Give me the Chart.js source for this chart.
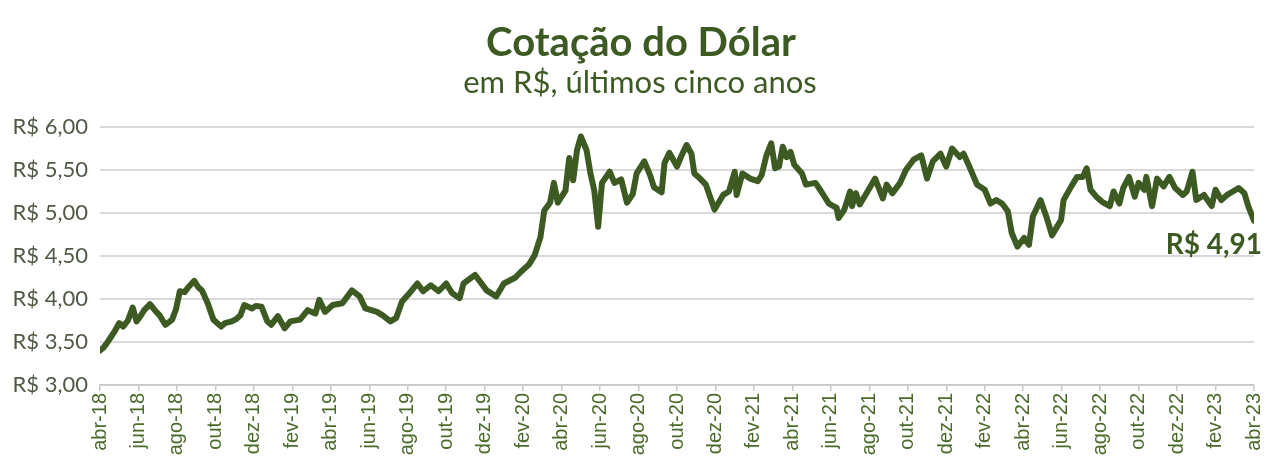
<!DOCTYPE html>
<html>
<head>
<meta charset="utf-8">
<script src="https://cdn.jsdelivr.net/npm/chart.js@4"></script>
<style>
  body { margin: 0; background: #fff; }
  #wrap { width: 1280px; height: 473px; }
</style>
</head>
<body>
<div id="wrap"><canvas id="myChart"></canvas></div>
<script>
// meses desde abr-18 (posição no eixo) e cotação
const months = [0.0, 0.2, 0.4, 0.75, 1.0, 1.2, 1.45, 1.7, 1.9, 2.1, 2.3, 2.6, 2.85, 3.1, 3.4, 3.75, 3.95,
  4.15, 4.4, 4.6, 4.9, 5.1, 5.3, 5.6, 5.9, 6.3, 6.5, 6.85, 7.1, 7.3, 7.5, 7.9, 8.1, 8.4, 8.7, 8.9, 9.25, 9.6,
  9.9, 10.4, 10.8, 11.2, 11.4, 11.7, 12.1, 12.6, 13.1, 13.5, 13.8, 14.4, 14.7, 15.1, 15.4, 15.7, 16.1, 16.5,
  16.8, 17.2, 17.6, 18.0, 18.3, 18.7, 18.9, 19.5, 19.7, 20.1, 20.6, 21.0, 21.6, 21.9, 22.3, 22.6, 22.9, 23.1,
  23.4, 23.6, 23.8, 24.2, 24.4, 24.6, 24.8, 25.0, 25.3, 25.5, 25.7, 25.9, 26.1, 26.5, 26.75, 27.1, 27.4, 27.7,
  27.9, 28.3, 28.6, 28.8, 29.2, 29.35, 29.6, 30.0, 30.2, 30.5, 30.75, 30.9, 31.2, 31.5, 31.95, 32.4, 32.7,
  33.0, 33.1, 33.4, 33.8, 34.2, 34.4, 34.65, 34.9, 35.1, 35.3, 35.5, 35.7, 35.9, 36.1, 36.5, 36.7, 37.2, 37.5,
  37.9, 38.3, 38.4, 38.7, 39.0, 39.1, 39.3, 39.5, 39.8, 40.3, 40.7, 40.9, 41.2, 41.6, 41.9, 42.3, 42.7, 43.0,
  43.3, 43.7, 44.0, 44.3, 44.7, 44.9, 45.2, 45.6, 46.0, 46.3, 46.6, 46.9, 47.2, 47.4, 47.7, 48.05, 48.3, 48.5,
  48.9, 49.2, 49.5, 49.97, 50.1, 50.5, 50.8, 51.1, 51.3, 51.5, 51.8, 52.1, 52.5, 52.7, 53.0, 53.2, 53.5, 53.8,
  54.0, 54.3, 54.4, 54.7, 54.96, 55.3, 55.6, 55.9, 56.3, 56.5, 56.8, 57.0, 57.4, 57.8, 58.0, 58.3, 58.6, 58.9,
  59.2, 59.5, 59.7, 60.0];
const usd = [3.40, 3.44, 3.50, 3.62, 3.72, 3.68, 3.75, 3.90, 3.74, 3.80, 3.87, 3.94, 3.87, 3.81, 3.70, 3.76, 3.88,
  4.09, 4.08, 4.14, 4.21, 4.14, 4.10, 3.95, 3.76, 3.68, 3.72, 3.74, 3.77, 3.81, 3.93, 3.89, 3.92, 3.91, 3.74, 3.70, 3.80, 3.66,
  3.74, 3.76, 3.87, 3.83, 3.99, 3.85, 3.93, 3.95, 4.10, 4.03, 3.89, 3.85, 3.81, 3.74, 3.78, 3.97, 4.07, 4.18,
  4.09, 4.16, 4.09, 4.18, 4.07, 4.01, 4.18, 4.28, 4.22, 4.10, 4.03, 4.18, 4.25, 4.32, 4.40, 4.51, 4.72, 5.03,
  5.12, 5.35, 5.12, 5.26, 5.64, 5.38, 5.73, 5.89, 5.73, 5.46, 5.26, 4.84, 5.35, 5.48, 5.35, 5.39, 5.12, 5.22,
  5.46, 5.60, 5.44, 5.30, 5.24, 5.58, 5.70, 5.54, 5.65, 5.79, 5.69, 5.46, 5.40, 5.33, 5.04, 5.21, 5.25,
  5.48, 5.21, 5.46, 5.40, 5.37, 5.44, 5.67, 5.81, 5.52, 5.54, 5.77, 5.65, 5.71, 5.56, 5.46, 5.33, 5.35, 5.25,
  5.11, 5.06, 4.94, 5.04, 5.25, 5.08, 5.23, 5.10, 5.21, 5.40, 5.17, 5.33, 5.23, 5.35, 5.50, 5.62, 5.67, 5.40,
  5.60, 5.69, 5.54, 5.75, 5.65, 5.69, 5.54, 5.33, 5.27, 5.11, 5.15, 5.11, 5.02, 4.77, 4.61, 4.71, 4.63, 4.96,
  5.15, 4.96, 4.74, 4.92, 5.15, 5.31, 5.42, 5.42, 5.52, 5.27, 5.19, 5.13, 5.08, 5.25, 5.11, 5.29, 5.42, 5.19,
  5.35, 5.27, 5.42, 5.08, 5.40, 5.31, 5.42, 5.29, 5.21, 5.25, 5.48, 5.15, 5.21, 5.08, 5.27, 5.15, 5.21, 5.25,
  5.29, 5.23, 5.08, 4.91];
const tickLabels = ['abr-18', 'jun-18', 'ago-18', 'out-18', 'dez-18', 'fev-19', 'abr-19', 'jun-19', 'ago-19',
  'out-19', 'dez-19', 'fev-20', 'abr-20', 'jun-20', 'ago-20', 'out-20', 'dez-20', 'fev-21', 'abr-21', 'jun-21',
  'ago-21', 'out-21', 'dez-21', 'fev-22', 'abr-22', 'jun-22', 'ago-22', 'out-22', 'dez-22', 'fev-23', 'abr-23'];

const green = '#3d5a23';
const fmt = v => 'R$ ' + v.toFixed(2).replace('.', ',');

const textPlugin = {
  id: 'textPlugin',
  afterDraw(chart) {
    const ctx = chart.ctx;
    ctx.save();
    ctx.fillStyle = green;
    ctx.textAlign = 'center';
    ctx.textBaseline = 'alphabetic';
    ctx.font = 'bold 40px Lato';
    ctx.fillText('Cotação do Dólar', 641, 56);
    ctx.font = '31px Lato';
    ctx.fillText('em R$, últimos cinco anos', 640, 93);
    // rótulo do último valor
    const last = usd.length - 1;
    const px = chart.scales.x.getPixelForValue(months[last]);
    const py = chart.scales.y.getPixelForValue(usd[last]);
    ctx.font = 'bold 28px Lato';
    ctx.textAlign = 'right';
    ctx.fillText(fmt(usd[last]), px + 8, py + 33);
    ctx.restore();
  }
};

const ctx = document.getElementById('myChart').getContext('2d');
const myChart = new Chart(ctx, {
  type: 'line',
  data: {
    datasets: [{
      data: months.map((m, i) => ({ x: m, y: usd[i] })),
      borderColor: green,
      borderWidth: 6,
      pointRadius: 0,
      tension: 0,
      borderJoinStyle: 'round',
      borderCapStyle: 'round'
    }]
  },
  options: {
    responsive: true,
    maintainAspectRatio: false,
    animation: false,
    layout: { padding: { top: 127, right: 25, left: 0, bottom: 0 } },
    plugins: { legend: { display: false }, tooltip: { enabled: false } },
    scales: {
      x: {
        type: 'linear',
        min: 0,
        max: 60,
        afterFit(scale) { scale.height = 88; },
        ticks: {
          stepSize: 2,
          autoSkip: false,
          minRotation: 90,
          maxRotation: 90,
          padding: 2,
          color: '#4a6b2a',
          font: { family: 'Liberation Sans', size: 20 },
          callback: v => tickLabels[Math.round(v / 2)]
        },
        grid: { drawOnChartArea: false, drawTicks: true, tickLength: 6, color: '#c8c8c8', lineWidth: 1.5 },
        border: { display: true, color: '#c8c8c8', width: 1.5 }
      },
      y: {
        min: 3,
        max: 6,
        afterFit(scale) { scale.width = 100; },
        ticks: {
          stepSize: 0.5,
          padding: 12,
          color: '#4f5a44',
          font: { family: 'Lato', size: 22 },
          callback: v => fmt(v)
        },
        grid: { color: '#d9d9d9', lineWidth: 2, drawTicks: false, tickLength: 0 },
        border: { display: false }
      }
    }
  },
  plugins: [textPlugin]
});
</script>
</body>
</html>
